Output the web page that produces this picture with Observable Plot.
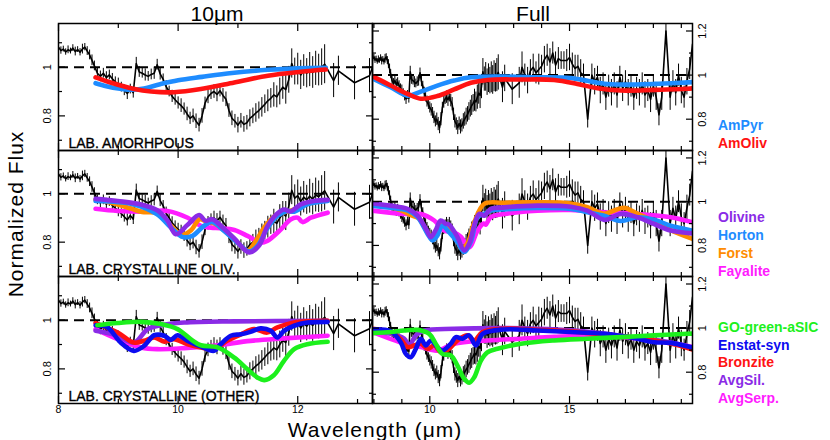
<!DOCTYPE html>
<html><head><meta charset="utf-8">
<script src="https://cdn.jsdelivr.net/npm/d3@7"></script>
<script src="https://cdn.jsdelivr.net/npm/@observablehq/plot@0.6"></script>
<style>
body{margin:0;background:#fff;}
#c{position:relative;width:830px;height:440px;font-family:"Liberation Sans",Arial,Helvetica,sans-serif;color:#000;overflow:hidden;background:#fff}
.a{position:absolute;white-space:nowrap;line-height:1}
.p{position:absolute}
.leg{position:absolute;left:718px;font-weight:bold;font-size:14px;line-height:1;white-space:nowrap;transform:translateY(-50%)}
</style></head><body><div id="c"></div>
<script>
// ---------- observed spectrum ----------
const WAVE = [7.96,8.00,8.04,8.08,8.12,8.16,8.20,8.24,8.28,8.32,8.36,8.40,8.44,8.48,8.52,8.56,
 8.60,8.65,8.70,8.75,8.80,8.85,8.90,8.95,9.00,9.05,9.10,9.15,9.20,9.25,9.30,9.35,9.40,9.45,9.50,9.55,9.60,9.65,9.70,9.75,9.80,9.85,9.90,9.95,
 10.00,10.05,10.10,10.15,10.20,10.25,10.30,10.35,10.40,10.45,10.50,10.55,10.60,10.65,10.70,10.75,10.80,10.85,10.90,10.95,
 11.00,11.05,11.10,11.15,11.20,11.25,11.30,11.35,11.40,11.45,11.50,11.55,11.60,11.65,11.70,11.75,11.80,11.85,11.90,11.95,
 12.00,12.05,12.10,12.15,12.20,12.25,12.30,12.35,12.40,12.45,
 12.60,12.68,12.95,13.20,13.30,13.40,13.50,13.60,13.70,13.80,13.90,14.00,14.10,14.20,14.30,14.40,14.50,14.60,14.70,14.80,14.90,15.00,15.10,15.20,15.30,15.40,15.50,15.65,15.80,15.90,
 16.00,16.10,16.20,16.30,16.40,16.50,16.60,16.70,16.80,16.90,17.00,17.10,17.20,17.30,17.40,17.50,17.60,17.70,17.80,17.90,
 18.00,18.10,18.20,18.30,18.45,18.60,18.70,18.80,18.90,19.00,19.10,19.20,19.30,19.40];
const FLUX = [1.075,1.082,1.068,1.074,1.062,1.071,1.066,1.078,1.064,1.072,1.061,1.074,1.082,1.066,1.050,1.028,
 1.005,0.975,0.962,0.975,0.957,0.968,0.952,0.940,0.930,0.918,0.905,0.892,0.910,0.895,1.015,0.980,0.975,0.968,0.962,0.970,0.975,1.010,0.972,0.950,0.920,0.900,0.880,0.866,
 0.853,0.842,0.828,0.808,0.790,0.800,0.778,0.762,0.800,0.852,0.878,0.892,0.900,0.888,0.903,0.884,0.868,0.822,0.790,0.778,
 0.762,0.780,0.765,0.772,0.790,0.800,0.812,0.822,0.835,0.848,0.862,0.872,0.886,0.878,0.900,0.918,0.908,0.948,1.015,0.982,
 0.992,0.968,0.986,0.975,0.990,0.978,0.995,0.988,1.000,1.012,
 0.945,0.985,0.936,0.965,1.035,1.000,0.975,1.020,1.035,1.010,1.025,1.040,1.070,1.090,1.060,1.100,1.045,1.075,1.066,1.066,1.066,1.080,1.050,1.030,1.040,1.010,1.000,0.800,1.000,0.970,
 0.990,0.930,0.960,0.900,0.950,0.920,0.960,0.910,0.990,0.940,0.970,0.920,0.950,0.900,0.940,0.920,0.960,0.910,0.930,0.890,
 0.950,0.900,0.820,0.900,1.200,0.900,0.970,0.920,1.000,0.930,0.900,0.970,1.030,1.140];
const ERR = [0.014,0.012,0.015,0.012,0.013,0.016,0.012,0.014,0.018,0.012,0.015,0.020,0.015,0.018,0.020,0.022,
 0.020,0.020,0.022,0.020,0.024,0.020,0.022,0.020,0.025,0.020,0.022,0.025,0.020,0.022,0.025,0.022,0.020,0.025,0.020,0.022,0.025,0.022,0.025,0.022,0.025,0.022,0.025,0.022,
 0.025,0.028,0.025,0.028,0.025,0.028,0.030,0.028,0.030,0.025,0.028,0.025,0.028,0.030,0.025,0.028,0.030,0.028,0.030,0.028,
 0.032,0.030,0.032,0.030,0.035,0.032,0.038,0.035,0.040,0.038,0.045,0.040,0.050,0.045,0.055,0.050,0.060,0.055,0.060,0.055,
 0.065,0.060,0.065,0.060,0.070,0.065,0.070,0.065,0.075,0.080,
 0.070,0.060,0.070,0.070,0.070,0.050,0.060,0.050,0.060,0.050,0.070,0.050,0.060,0.050,0.060,0.050,0.060,0.050,0.040,0.040,0.050,0.060,0.050,0.060,0.050,0.060,0.050,0.040,0.050,0.060,
 0.050,0.060,0.050,0.060,0.050,0.060,0.050,0.060,0.050,0.060,0.050,0.060,0.050,0.060,0.050,0.060,0.050,0.060,0.050,0.060,
 0.050,0.060,0.050,0.060,0.050,0.060,0.050,0.060,0.050,0.060,0.050,0.060,0.050,0.060];

// ---------- lab models, "10um" fits (left column) ----------
const AMPYR_10 = [[8.62,0.934],[8.8,0.922],[9.0,0.912],[9.2,0.907],[9.4,0.911],[9.7,0.93],[10.0,0.946],[10.4,0.96],[10.9,0.976],[11.5,0.989],[12.0,0.995],[12.47,0.997]];
const AMOLIV_10 = [[8.62,0.958],[8.87,0.937],[9.27,0.91],[9.55,0.9],[9.93,0.897],[10.38,0.91],[10.94,0.937],[11.5,0.965],[12.05,0.981],[12.47,0.99]];
const OLIVINE_10 = [[8.62,0.979],[8.99,0.970],[9.38,0.956],[9.65,0.932],[9.82,0.89],[9.96,0.833],[10.16,0.872],[10.35,0.912],[10.46,0.888],[10.57,0.895],[10.74,0.862],[10.94,0.815],[11.19,0.757],[11.35,0.785],[11.49,0.864],[11.63,0.912],[11.77,0.935],[11.88,0.927],[12.05,0.956],[12.27,0.970],[12.5,0.975]];
const HORTON_10 = [[8.62,0.970],[9.26,0.956],[9.65,0.915],[9.88,0.860],[10.07,0.822],[10.24,0.826],[10.43,0.867],[10.57,0.883],[10.77,0.846],[10.99,0.798],[11.19,0.761],[11.33,0.785],[11.49,0.857],[11.66,0.908],[11.83,0.929],[11.94,0.926],[12.16,0.956],[12.5,0.970]];
const FORST_10 = [[8.62,0.975],[8.9,0.962],[9.2,0.94],[9.4,0.925],[9.65,0.92],[9.88,0.868],[10.07,0.83],[10.22,0.85],[10.36,0.895],[10.48,0.884],[10.62,0.875],[10.94,0.812],[11.16,0.765],[11.3,0.805],[11.46,0.868],[11.66,0.915],[11.88,0.93],[12.16,0.958],[12.5,0.972]];
const FAYALITE_10 = [[8.62,0.938],[8.99,0.929],[9.43,0.926],[9.82,0.929],[10.16,0.901],[10.38,0.867],[10.55,0.86],[10.71,0.858],[10.94,0.85],[11.16,0.826],[11.38,0.798],[11.49,0.805],[11.72,0.853],[11.88,0.894],[12.0,0.901],[12.08,0.883],[12.22,0.901],[12.5,0.922]];
const GOGREEN_10 = [[8.65,0.979],[8.99,0.988],[9.38,0.993],[9.71,0.984],[9.99,0.963],[10.21,0.922],[10.38,0.897],[10.66,0.888],[10.94,0.846],[11.16,0.798],[11.33,0.764],[11.44,0.754],[11.6,0.774],[11.77,0.833],[11.94,0.881],[12.16,0.901],[12.5,0.911]];
const ENSTAT_10 = [[8.62,0.979],[8.82,0.97],[9.04,0.908],[9.26,0.874],[9.43,0.894],[9.6,0.938],[9.77,0.936],[9.88,0.919],[9.99,0.938],[10.16,0.915],[10.38,0.892],[10.6,0.874],[10.71,0.901],[10.88,0.936],[11.05,0.942],[11.21,0.952],[11.38,0.966],[11.55,0.956],[11.66,0.929],[11.77,0.956],[11.94,0.977],[12.16,0.99],[12.5,0.993]];
const BRONZITE_10 = [[8.62,0.988],[8.99,0.949],[9.26,0.908],[9.43,0.915],[9.6,0.929],[9.77,0.912],[9.93,0.922],[10.16,0.901],[10.38,0.888],[10.6,0.881],[10.82,0.915],[11.05,0.942],[11.27,0.963],[11.49,0.949],[11.66,0.97],[11.94,0.99],[12.5,0.997]];
const AVGSIL_10 = [[8.62,0.956],[8.99,0.936],[9.26,0.908],[9.49,0.963],[9.71,0.979],[10.1,0.99],[10.94,0.995],[12.5,0.997]];
const AVGSERP_10 = [[8.62,0.963],[8.99,0.922],[9.38,0.888],[9.65,0.881],[10.1,0.885],[10.66,0.897],[11.21,0.915],[11.77,0.925],[12.5,0.936]];

// ---------- lab models, "Full" fits (right column) ----------
const AMPYR_FULL = [[7.95,0.985],[8.6,0.945],[9.2,0.907],[9.7,0.926],[10.27,0.952],[10.87,0.975],[11.47,0.99],[12.66,0.993],[13.85,0.99],[15.05,0.987],[15.64,0.974],[16.24,0.961],[16.83,0.957],[18.03,0.96],[19.22,0.967],[19.4,0.968]];
const AMOLIV_FULL = [[7.95,0.995],[8.6,0.953],[9.2,0.915],[9.68,0.893],[10.27,0.905],[10.87,0.935],[11.47,0.965],[12.06,0.978],[13.26,0.98],[14.45,0.978],[15.28,0.96],[16.0,0.94],[16.83,0.93],[18.03,0.933],[19.22,0.938],[19.4,0.94]];
const OLIVINE_FULL = [[7.95,0.992],[8.6,0.982],[9.2,0.967],[9.56,0.936],[9.86,0.876],[10.04,0.838],[10.21,0.87],[10.39,0.914],[10.57,0.899],[10.69,0.895],[10.99,0.838],[11.23,0.777],[11.41,0.808],[11.59,0.891],[11.77,0.944],[11.95,0.936],[12.18,0.967],[12.66,0.974],[13.85,0.982],[15.05,0.977],[15.64,0.959],[16.24,0.917],[16.83,0.944],[17.43,0.929],[18.03,0.898],[18.62,0.868],[19.4,0.855]];
const HORTON_FULL = [[7.95,0.982],[8.6,0.972],[9.2,0.96],[9.56,0.93],[9.92,0.853],[10.1,0.823],[10.27,0.845],[10.45,0.891],[10.69,0.86],[10.99,0.815],[11.23,0.77],[11.47,0.818],[11.71,0.929],[11.95,0.944],[12.18,0.959],[12.66,0.965],[13.85,0.971],[15.05,0.967],[15.64,0.952],[16.24,0.936],[16.83,0.912],[17.43,0.929],[18.03,0.918],[18.62,0.89],[19.4,0.868]];
const FORST_FULL = [[7.95,0.99],[8.6,0.975],[9.08,0.955],[9.32,0.938],[9.6,0.925],[9.92,0.86],[10.1,0.835],[10.27,0.85],[10.39,0.89],[10.51,0.898],[10.75,0.87],[11.17,0.79],[11.35,0.81],[11.59,0.905],[11.95,0.99],[12.66,0.995],[13.85,0.997],[15.05,0.992],[15.64,0.975],[16.24,0.945],[16.6,0.96],[16.95,0.972],[17.43,0.945],[18.03,0.91],[18.62,0.87],[19.4,0.83]];
const FAYALITE_FULL = [[7.95,0.959],[9.08,0.944],[9.68,0.944],[10.16,0.914],[10.51,0.868],[10.87,0.86],[11.11,0.84],[11.41,0.792],[11.71,0.868],[11.92,0.9],[12.0,0.895],[12.18,0.929],[12.66,0.944],[13.85,0.959],[15.05,0.962],[16.24,0.952],[17.43,0.944],[18.62,0.929],[19.4,0.906]];
const GOGREEN_FULL = [[7.95,0.977],[8.6,0.982],[9.08,0.989],[9.56,0.992],[9.98,0.974],[10.21,0.929],[10.45,0.883],[10.75,0.876],[10.99,0.83],[11.23,0.77],[11.41,0.752],[11.59,0.777],[11.83,0.853],[12.06,0.89],[12.42,0.906],[13.26,0.929],[14.45,0.944],[15.64,0.952],[16.83,0.959],[18.03,0.967],[19.22,0.974],[19.4,0.975]];
const ENSTAT_FULL = [[7.95,0.994],[8.6,0.985],[8.96,0.936],[9.14,0.883],[9.32,0.868],[9.5,0.906],[9.68,0.952],[9.86,0.921],[10.04,0.944],[10.27,0.914],[10.45,0.898],[10.75,0.929],[10.93,0.959],[11.17,0.952],[11.41,0.967],[11.65,0.921],[11.89,0.974],[12.66,0.994],[13.85,0.989],[15.05,0.982],[16.24,0.974],[17.43,0.952],[18.03,0.936],[18.62,0.933],[19.34,0.914],[19.4,0.912]];
const BRONZITE_FULL = [[7.95,0.997],[8.6,0.982],[8.96,0.95],[9.2,0.914],[9.44,0.921],[9.68,0.929],[9.92,0.906],[10.16,0.921],[10.39,0.891],[10.69,0.906],[10.99,0.944],[11.35,0.967],[11.59,0.944],[11.89,0.982],[12.66,0.997],[13.85,0.992],[15.05,0.985],[16.24,0.97],[17.43,0.955],[18.62,0.93],[19.4,0.903]];
const AVGSIL_FULL = [[7.95,0.982],[8.6,0.974],[9.08,0.952],[9.26,0.921],[9.5,0.967],[9.8,0.989],[10.87,0.997],[12.66,1.0],[13.85,0.997],[15.05,0.99],[16.24,0.975],[17.43,0.955],[18.62,0.935],[19.4,0.91]];
const AVGSERP_FULL = [[7.95,0.982],[9.08,0.93],[9.68,0.914],[10.27,0.898],[10.87,0.929],[12.06,0.944],[13.26,0.952],[14.45,0.96],[15.64,0.965],[16.83,0.96],[18.03,0.945],[19.4,0.915]];

// ---------- labels & scales ----------
const COLUMN_TITLES = ["10\u03bcm", "Full"];
const ROW_LABELS = ["LAB. AMORHPOUS", "LAB. CRYSTALLINE OLIV.", "LAB. CRYSTALLINE (OTHER)"];
const X_DOMAIN = [[8, 13.25], [7.95, 19.40]];
const Y_DOMAIN = [[0.658, 1.179], [0.658, 1.234]];
const X_LABEL_TICKS = [[8, 10, 12], [10, 15]];
const X_MINOR_TICKS = [[9, 11, 13], [8, 9, 11, 12, 13, 14, 16, 17, 18, 19]];
const Y_LABEL_TICKS = [[0.8, 1], [0.8, 1, 1.2]];
const Y_MINOR_TICKS = [[0.7, 0.9, 1.1], [0.7, 0.9, 1.1]];

const COLORS = {AmPyr:"#1e8cff", AmOliv:"#ff1212", Olivine:"#8a2be6", Horton:"#1e8cff", Forst:"#ff8c00", Fayalite:"#ff1cff",
  "GO-green-aSIC":"#1cf01c", "Enstat-syn":"#0c0cf0", Bronzite:"#ff1212", "AvgSil.":"#8a2be6", "AvgSerp.":"#ff1cff"};

const LEGEND = [["AmPyr","AmOliv"],["Olivine","Horton","Forst","Fayalite"],["GO-green-aSIC","Enstat-syn","Bronzite","AvgSil.","AvgSerp."]];
const MODELS = [
  [[["AmPyr",AMPYR_10],["AmOliv",AMOLIV_10]], [["AmPyr",AMPYR_FULL],["AmOliv",AMOLIV_FULL]]],
  [[["Fayalite",FAYALITE_10],["Forst",FORST_10],["Horton",HORTON_10],["Olivine",OLIVINE_10]],
   [["Fayalite",FAYALITE_FULL],["Forst",FORST_FULL],["Horton",HORTON_FULL],["Olivine",OLIVINE_FULL]]],
  [[["AvgSerp.",AVGSERP_10],["AvgSil.",AVGSIL_10],["Bronzite",BRONZITE_10],["Enstat-syn",ENSTAT_10],["GO-green-aSIC",GOGREEN_10]],
   [["AvgSerp.",AVGSERP_FULL],["AvgSil.",AVGSIL_FULL],["Bronzite",BRONZITE_FULL],["Enstat-syn",ENSTAT_FULL],["GO-green-aSIC",GOGREEN_FULL]]]
];

// ---------- layout ----------
const PANEL_LEFT = [58, 372], PANEL_W = [314, 320];
const ROW_TOP = [23, 150, 276], ROW_H = [127, 126, 127];

const spec = WAVE.map((w, i) => ({w, f: FLUX[i], lo: FLUX[i] - ERR[i], hi: FLUX[i] + ERR[i]}));
const root = document.getElementById("c");

function makePanel(col, row) {
  const isL = col === 0, isB = row === 2;
  const mL = isL ? 26 : 0, mR = isL ? 0 : 26, mB = isB ? 20 : 0;
  const W = PANEL_W[col], H = ROW_H[row];
  const tk = {fill: "none", stroke: "black", strokeWidth: 1.2, label: null};
  const marks = [
    Plot.ruleY([1], {stroke: "black", strokeWidth: 2, strokeDasharray: "10,6"}),
    Plot.ruleX(spec, {x: "w", y1: "lo", y2: "hi", stroke: "black", strokeWidth: 1, clip: true}),
    Plot.line(spec, {x: "w", y: "f", stroke: "black", strokeWidth: 1.6, clip: true}),
    ...MODELS[row][col].map(([name, pts]) => Plot.line(pts, {x: d => d[0], y: d => d[1], stroke: COLORS[name],
      strokeWidth: 4.6, curve: "catmull-rom", clip: true})),
    Plot.axisX({anchor: "bottom", ticks: X_LABEL_TICKS[col], tickSize: -7, ...tk}),
    Plot.axisX({anchor: "bottom", ticks: X_MINOR_TICKS[col], tickSize: -4, ...tk}),
    Plot.axisX({anchor: "top", ticks: X_LABEL_TICKS[col], tickSize: -7, ...tk}),
    Plot.axisX({anchor: "top", ticks: X_MINOR_TICKS[col], tickSize: -4, ...tk}),
    Plot.axisY({anchor: "left", ticks: Y_LABEL_TICKS[col], tickSize: -7, ...tk}),
    Plot.axisY({anchor: "left", ticks: Y_MINOR_TICKS[col], tickSize: -4, ...tk}),
    Plot.axisY({anchor: "right", ticks: Y_LABEL_TICKS[col], tickSize: -7, ...tk}),
    Plot.axisY({anchor: "right", ticks: Y_MINOR_TICKS[col], tickSize: -4, ...tk}),
    Plot.frame({stroke: "black", strokeWidth: 1.5}),
    Plot.axisY({anchor: isL ? "left" : "right", ticks: Y_LABEL_TICKS[col], tickSize: 0, tickPadding: isL ? 8 : 6,
      tickRotate: -90, lineAnchor: isL ? "bottom" : "top", tickFormat: d => String(d), fontSize: 11, fill: "black", label: null})
  ];
  if (isL) marks.push(Plot.text([ROW_LABELS[row]], {text: d => d, frameAnchor: "bottom-left", dx: 10, dy: -3, lineAnchor: "bottom",
      textAnchor: "start", fontSize: 14, fill: "black", stroke: "black", strokeWidth: 0.35}));
  if (isB) marks.push(Plot.axisX({anchor: "bottom", ticks: X_LABEL_TICKS[col], tickSize: 0, tickPadding: 2,
      tickFormat: d => String(d), fontSize: 10.5, fill: "black", label: null}));
  const svg = Plot.plot({
    width: W + mL + mR, height: H + mB,
    marginLeft: mL, marginRight: mR, marginTop: 0, marginBottom: mB,
    x: {domain: X_DOMAIN[col], axis: null},
    y: {domain: Y_DOMAIN[col], axis: null},
    style: {overflow: "visible", background: "transparent", fontFamily: "'Liberation Sans', Arial, sans-serif"},
    marks
  });
  const wrap = document.createElement("div");
  wrap.className = "p";
  wrap.style.left = (PANEL_LEFT[col] - mL) + "px";
  wrap.style.top = ROW_TOP[row] + "px";
  wrap.appendChild(svg);
  root.appendChild(wrap);
}

for (let r = 0; r < 3; r++) for (let c = 0; c < 2; c++) makePanel(c, r);

function addText(txt, x, y, css) {
  const d = document.createElement("div");
  d.className = "a";
  d.textContent = txt;
  d.style.left = x + "px"; d.style.top = y + "px";
  Object.assign(d.style, css);
  root.appendChild(d);
}
addText(COLUMN_TITLES[0], 217, 12.5, {fontSize: "21px", transform: "translate(-50%,-50%)"});
addText(COLUMN_TITLES[1], 533, 12.5, {fontSize: "21px", transform: "translate(-50%,-50%)"});
addText("Normalized Flux", 15, 214, {fontSize: "21px", letterSpacing: "1px", transform: "translate(-50%,-50%) rotate(-90deg)"});
addText("Wavelength (\u03bcm)", 375, 429, {fontSize: "21px", letterSpacing: "1px", transform: "translate(-50%,-50%)"});

const LEGEND_Y = [[125, 143], [217, 235, 253, 271], [327, 345, 362, 380, 398]];
LEGEND.forEach((names, r) => names.forEach((n, i) => {
  const d = document.createElement("div");
  d.className = "leg";
  d.textContent = n;
  d.style.top = LEGEND_Y[r][i] + "px";
  d.style.color = COLORS[n];
  root.appendChild(d);
}));
</script></body></html>
